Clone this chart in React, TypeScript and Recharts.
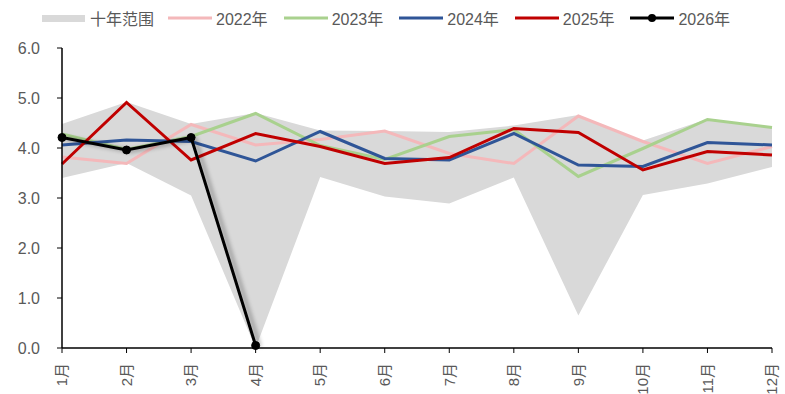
import React from "react";
import { ComposedChart, Area, Line, XAxis, YAxis } from "recharts";

const months = ["1月", "2月", "3月", "4月", "5月", "6月", "7月", "8月", "9月", "10月", "11月", "12月"];
const rangeLow = [3.4, 3.7, 3.05, 0, 3.42, 3.03, 2.89, 3.41, 0.65, 3.06, 3.29, 3.62];
const rangeHigh = [4.48, 4.92, 4.48, 4.7, 4.35, 4.34, 4.32, 4.45, 4.66, 4.15, 4.58, 4.42];
const y2022 = [3.82, 3.69, 4.47, 4.06, 4.17, 4.34, 3.89, 3.69, 4.64, 4.13, 3.69, 4.03];
const y2023 = [4.28, 3.97, 4.23, 4.69, 4.05, 3.77, 4.23, 4.37, 3.43, 3.99, 4.57, 4.41];
const y2024 = [4.06, 4.16, 4.13, 3.74, 4.33, 3.79, 3.76, 4.29, 3.66, 3.63, 4.11, 4.06];
const y2025 = [3.68, 4.91, 3.76, 4.29, 4.03, 3.69, 3.81, 4.39, 4.31, 3.56, 3.93, 3.86];
const y2026 = [4.21, 3.96, 4.21, 0.05, null, null, null, null, null, null, null, null];
const yTicks = [0, 1, 2, 3, 4, 5, 6];

const series = [
  { key: "y2022", name: "2022年", color: "#F4B8BA" },
  { key: "y2023", name: "2023年", color: "#A9D18E" },
  { key: "y2024", name: "2024年", color: "#2F5597" },
  { key: "y2025", name: "2025年", color: "#C00000" },
  { key: "y2026", name: "2026年", color: "#000000" },
];

const data = months.map((m, i) => ({
  month: m,
  range: [rangeLow[i], rangeHigh[i]],
  y2022: y2022[i],
  y2023: y2023[i],
  y2024: y2024[i],
  y2025: y2025[i],
  y2026: y2026[i],
}));

const font = "'Liberation Sans', 'Noto Sans CJK SC', sans-serif";
const textColor = "#595959";

const MonthTick = (props: any) => {
  const { x, y, payload } = props;
  return (
    <text
      x={x}
      y={y + 8}
      transform={`rotate(-90, ${x}, ${y + 8})`}
      textAnchor="end"
      dy="0.35em"
      fill={textColor}
      fontSize={15}
      fontFamily={font}
    >
      {payload.value}
    </text>
  );
};

const ChartLegend = () => (
  <div
    style={{
      position: "absolute",
      top: 6,
      left: 42,
      display: "flex",
      alignItems: "center",
      fontFamily: font,
      fontSize: 16,
      color: textColor,
      whiteSpace: "nowrap",
    }}
  >
    <span style={{ display: "inline-block", width: 43, height: 7, background: "#D9D9D9", marginRight: 5 }} />
    <span style={{ marginRight: 14 }}>十年范围</span>
    {series.map((s) => (
      <React.Fragment key={s.key}>
        <svg width={44} height={10} style={{ marginRight: 4 }}>
          <line x1={0} y1={5} x2={44} y2={5} stroke={s.color} strokeWidth={3} />
          {s.key === "y2026" && <circle cx={22} cy={5} r={4} fill="#000" />}
        </svg>
        <span style={{ marginRight: 16 }}>{s.name}</span>
      </React.Fragment>
    ))}
  </div>
);

export default function App() {
  return (
    <div style={{ position: "fixed", left: 0, top: 0, width: 785, height: 394, background: "#fff" }}>
      <style>{`.shadow-line { filter: drop-shadow(4px 1px 2px rgba(0,0,0,0.35)); }`}</style>
      <ChartLegend />
      <ComposedChart width={785} height={394} data={data} margin={{ top: 48, right: 13, bottom: 0, left: 0 }}>
        <XAxis
          dataKey="month"
          type="category"
          scale="point"
          padding={{ left: 0, right: 0 }}
          axisLine={{ stroke: "#000", strokeWidth: 1.5 }}
          tickLine={{ stroke: "#000" }}
          tickSize={5}
          height={46}
          interval={0}
          tick={<MonthTick />}
        />
        <YAxis
          domain={[0, 6]}
          ticks={yTicks}
          width={62}
          axisLine={{ stroke: "#000", strokeWidth: 1.5 }}
          tickLine={{ stroke: "#000" }}
          tickSize={5}
          tickMargin={17}
          tickFormatter={(v: number) => v.toFixed(1)}
          tick={{ fill: textColor, fontSize: 16, fontFamily: font }}
        />
        <Area
          dataKey="range"
          fill="#D9D9D9"
          fillOpacity={1}
          stroke="none"
          isAnimationActive={false}
          activeDot={false}
        />
        {series.slice(0, 4).map((s) => (
          <Line
            key={s.key}
            dataKey={s.key}
            stroke={s.color}
            strokeWidth={3}
            dot={false}
            activeDot={false}
            isAnimationActive={false}
          />
        ))}
        <Line
          dataKey="y2026"
          className="shadow-line"
          stroke="#000"
          strokeWidth={3}
          dot={{ r: 4, fill: "#000", stroke: "#000", strokeWidth: 1 }}
          activeDot={false}
          isAnimationActive={false}
        />
      </ComposedChart>
    </div>
  );
}
